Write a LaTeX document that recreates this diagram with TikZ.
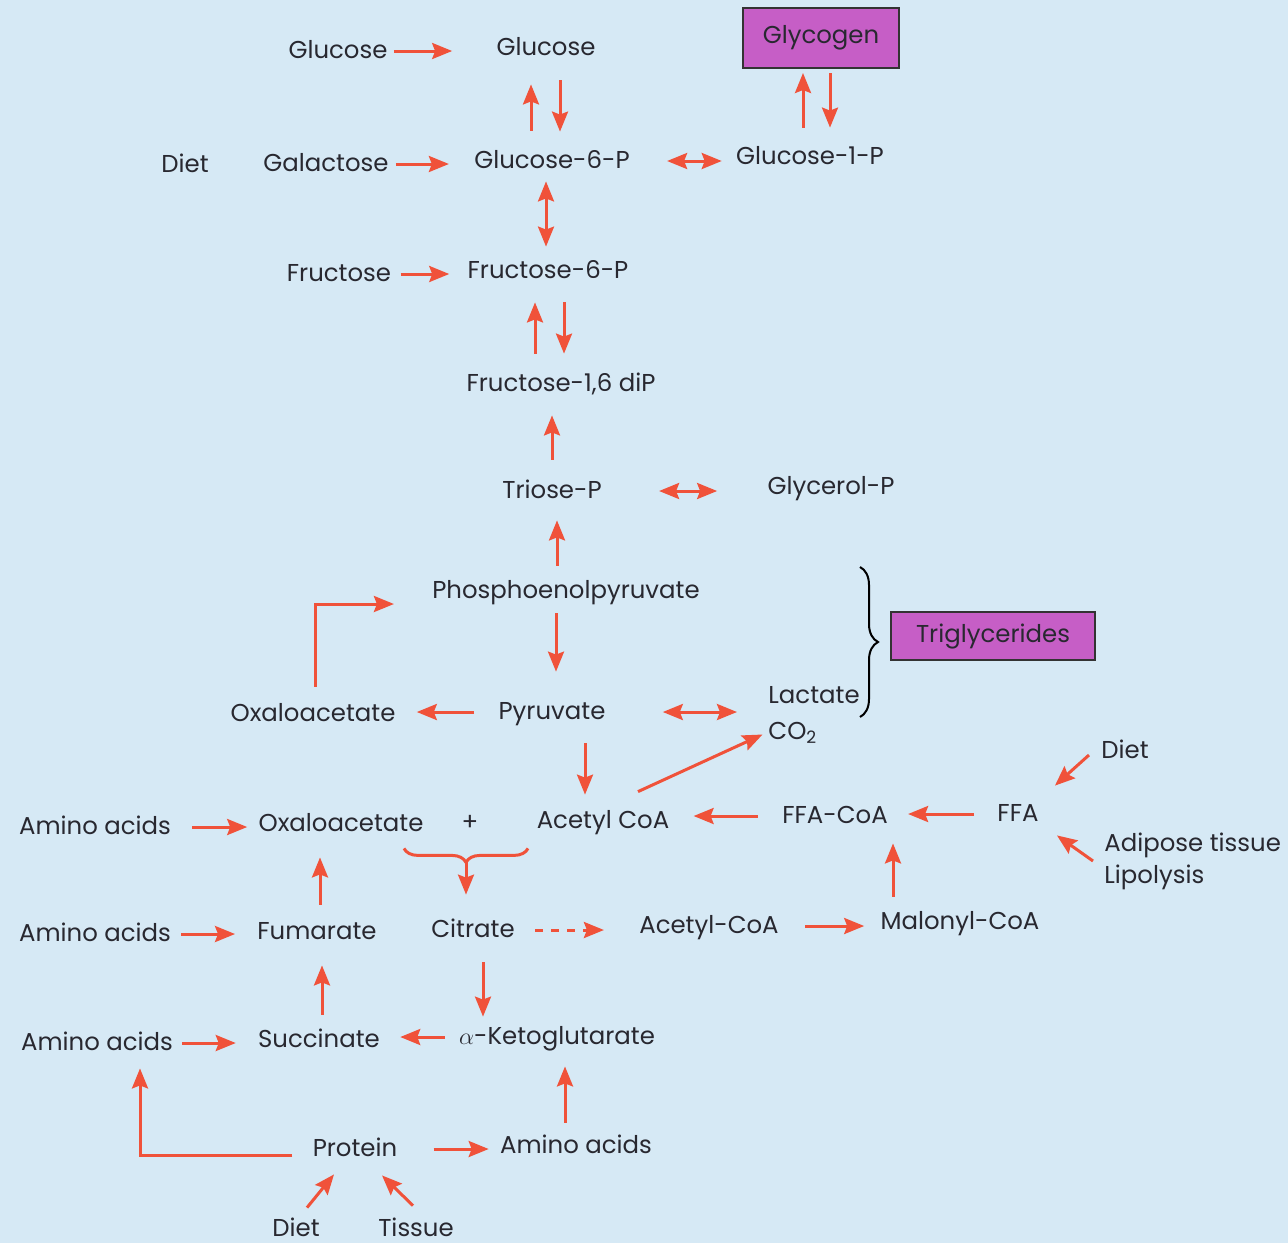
\documentclass[tikz,border=0pt]{standalone}
\usepackage{fontspec}
\setmainfont{Poppins}
\usepackage{tikz}
\usetikzlibrary{positioning,arrows.meta,calc,decorations.pathreplacing}
\definecolor{bgblue}{RGB}{214,233,245}
\definecolor{arrowred}{RGB}{240,82,58}
\definecolor{boxpink}{RGB}{198,94,198}
\definecolor{txtgray}{RGB}{40,40,48}

\begin{document}
\begin{tikzpicture}[x=0.5pt, y=-0.5pt,
    lbl/.style={anchor=base, inner sep=0pt, text height=10pt, text depth=3pt,
        text=txtgray, font=\fontsize{12.2}{14}\selectfont},
    store/.style={draw=black!80, line width=1pt, fill=boxpink, text=txtgray,
        font=\fontsize{12.2}{14}\selectfont},
    >={Stealth[length=10pt, width=8pt, inset=1.5pt]},
    arr/.style={draw=arrowred, line width=1.5pt, ->},
    dbl/.style={draw=arrowred, line width=1.5pt, <->}]
    \fill[bgblue] (0,0) rectangle (1288,1243);
    \useasboundingbox (0,0) rectangle (1288,1243);

    % Sugars
    \node[lbl] (glcA) at (338,58) {Glucose};
    \node[lbl] (glcB) at (546,55) {Glucose};
    \node[store, minimum width=78pt, minimum height=30pt] (glycogen) at (821,38) {Glycogen};
    \node[lbl] (dietA) at (185,172) {Diet};
    \node[lbl] (gal) at (326,171) {Galactose};
    \node[lbl] (g6p) at (552,168) {Glucose-6-P};
    \node[lbl] (g1p) at (810,164) {Glucose-1-P};
    \node[lbl] (fru) at (339,281) {Fructose};
    \node[lbl] (f6p) at (548,278) {Fructose-6-P};
    \node[lbl] (fdp) at (561,391) {Fructose-1,6 diP};
    \node[lbl] (triose) at (552,498) {Triose-P};
    \node[lbl] (glyp) at (831,494) {Glycerol-P};
    \node[lbl] (pep) at (566,598) {Phosphoenolpyruvate};
    \node[store, minimum width=102pt, minimum height=24pt] (trig) at (993,636) {Triglycerides};
    \node[lbl, anchor=base west] (lact) at (768,703) {Lactate};
    \node[lbl, anchor=base west] (co2) at (768,739) {CO\textsubscript{2}};
    \node[lbl] (oaaA) at (313,721) {Oxaloacetate};
    \node[lbl] (pyr) at (552,719) {Pyruvate};

    % Fatty acids
    \node[lbl] (acoa) at (603,828) {Acetyl CoA};
    \node[lbl] (dietB) at (1125,758) {Diet};
    \node[lbl] (ffacoa) at (835,823) {FFA-CoA};
    \node[lbl] (ffa) at (1018,821) {FFA};
    \node[anchor=west, inner sep=0pt, align=left, text=txtgray,
        font=\fontsize{12.2}{16}\selectfont] (adip) at (1104,861) {Adipose tissue\\Lipolysis};
    \node[lbl] (acoaB) at (709,933) {Acetyl-CoA};
    \node[lbl] (mal) at (960,929) {Malonyl-CoA};

    % Citric acid cycle
    \node[lbl] (aaA) at (95,834) {Amino acids};
    \node[lbl] (oaaB) at (341,831) {Oxaloacetate};
    \node[lbl] (plus) at (470,830) {+};
    \node[lbl] (cit) at (473,937) {Citrate};
    \node[lbl] (aaB) at (95,941) {Amino acids};
    \node[lbl] (fum) at (317,939) {Fumarate};
    \node[lbl] (aaC) at (97,1050) {Amino acids};
    \node[lbl] (succ) at (319,1047) {Succinate};
    \node[lbl] (akg) at (557,1044) {$\alpha$-Ketoglutarate};
    \node[lbl] (prot) at (355,1156) {Protein};
    \node[lbl] (aaD) at (576,1153) {Amino acids};
    \node[lbl] (dietC) at (296,1236) {Diet};
    \node[lbl] (tissue) at (416,1236) {Tissue};

    % Horizontal steps
    \draw[arr, shorten <=3pt, shorten >=22pt] (glcA.east) -- (glcA.east -| glcB.west);
    \draw[arr, shorten <=3.5pt, shorten >=12.5pt] (gal.east) -- (gal.east -| g6p.west);
    \draw[dbl, shorten <=18.5pt, shorten >=7pt] (g6p.east) -- (g6p.east -| g1p.west);
    \draw[arr, shorten <=4.5pt, shorten >=9pt] (fru.east) -- (fru.east -| f6p.west);
    \draw[dbl, shorten <=28.5pt, shorten >=25pt] (triose.east) -- (triose.east -| glyp.west);
    \draw[dbl, shorten <=28.5pt, shorten >=15.5pt] (pyr.east) -- (pyr.east -| lact.west);
    \draw[arr, shorten <=12pt, shorten >=10.5pt] (pyr.west) -- (pyr.west -| oaaA.east);
    \draw[arr, shorten <=12pt, shorten >=12pt] (ffacoa.west) -- (ffacoa.west -| acoa.east);
    \draw[arr, shorten <=11.5pt, shorten >=10pt] (ffa.west) -- (ffa.west -| ffacoa.east);
    \draw[arr, shorten <=10.5pt, shorten >=5.5pt] (aaA.east) -- (aaA.east -| oaaB.west);
    \draw[arr, shorten <=5pt, shorten >=11pt] (aaB.east) -- (aaB.east -| fum.west);
    \draw[arr, dash pattern=on 4pt off 4pt, shorten <=10pt, shorten >=17.5pt] (cit.east) -- (cit.east -| acoaB.west);
    \draw[arr, shorten <=13pt, shorten >=8pt] (acoaB.east) -- (acoaB.east -| mal.west);
    \draw[arr, shorten <=4.5pt, shorten >=11pt] (aaC.east) -- (aaC.east -| succ.west);
    \draw[arr, shorten <=7pt, shorten >=10pt] (akg.west) -- (akg.west -| succ.east);
    \draw[arr, shorten <=18pt, shorten >=5.5pt] (prot.east) -- (prot.east -| aaD.west);

    % Vertical steps
    \draw[arr, shorten <=8.5pt, shorten >=11.5pt] ([xshift=-10.5pt]g6p.north) -- ([xshift=-10.5pt]g6p.north |- glcB.south);
    \draw[arr, shorten <=9.5pt, shorten >=8pt] ([xshift=7pt]glcB.south) -- ([xshift=7pt]glcB.south |- g6p.north);
    \draw[arr, shorten <=8pt, shorten >=2pt] ([xshift=-3.5pt]g1p.north) -- ([xshift=-3.5pt]g1p.north |- glycogen.south);
    \draw[arr, shorten <=2pt, shorten >=8pt] ([xshift=4.5pt]glycogen.south) -- ([xshift=4.5pt]glycogen.south |- g1p.north);
    \draw[dbl, shorten <=3.5pt, shorten >=5.5pt] ([xshift=-3pt]g6p.south) -- ([xshift=-3pt]g6p.south |- f6p.north);
    \draw[arr, shorten <=8.5pt, shorten >=9pt] ([xshift=-13pt]fdp.north) -- ([xshift=-13pt]fdp.north |- f6p.south);
    \draw[arr, shorten <=9pt, shorten >=8.5pt] ([xshift=8pt]f6p.south) -- ([xshift=8pt]f6p.south |- fdp.north);
    \draw[arr, shorten <=9pt, shorten >=9pt] (triose.north) -- (triose.north |- fdp.south);
    \draw[arr, shorten <=6pt, shorten >=8pt] ([xshift=-4.5pt]pep.north) -- ([xshift=-4.5pt]pep.north |- triose.south);
    \draw[arr, shorten <=4.5pt, shorten >=13.5pt] ([xshift=-5pt]pep.south) -- ([xshift=-5pt]pep.south |- pyr.north);
    \draw[arr, shorten <=9pt, shorten >=6.5pt] ([xshift=16.5pt]pyr.south) -- ([xshift=16.5pt]pyr.south |- acoa.north);
    \draw[arr, shorten <=6pt, shorten >=7pt] ([xshift=-33.5pt]mal.north) -- ([xshift=-33.5pt]mal.north |- ffacoa.south);
    \draw[arr, shorten <=7pt, shorten >=10pt] ([xshift=1.5pt]fum.north) -- ([xshift=1.5pt]fum.north |- oaaB.south);
    \draw[arr, shorten <=6pt, shorten >=10pt] ([xshift=1.5pt]succ.north) -- ([xshift=1.5pt]succ.north |- fum.south);
    \draw[arr, shorten <=9.5pt, shorten >=3.5pt] ([xshift=5pt]cit.south) -- ([xshift=5pt]cit.south |- akg.north);
    \draw[arr, shorten <=5pt, shorten >=8pt] ([xshift=-5.5pt]aaD.north) -- ([xshift=-5.5pt]aaD.north |- akg.south);

    % Bent and slanted steps
    \draw[arr, shorten <=7pt, shorten >=19pt] ([xshift=1pt]oaaA.north) |- ([yshift=-6.5pt]pep.west);
    \draw[arr, shorten <=10pt, shorten >=6pt] ([yshift=-3pt]prot.west) -| ([xshift=21.5pt]aaC.south);
    \draw[arr, shorten >=3pt] ([xshift=17.5pt, yshift=8pt]acoa.north) -- (co2.west);
    \draw[arr] ([xshift=-6pt, yshift=-2pt]dietB.west) -- ([xshift=8pt, yshift=7.5pt]ffa.north east);
    \draw[arr] ([xshift=-5.5pt]adip.west) -- ([xshift=9pt, yshift=-4pt]ffa.south east);
    \draw[arr] ([xshift=5.5pt, yshift=4pt]dietC.north) -- ([xshift=-10.5pt, yshift=-6pt]prot.south);
    \draw[arr] ([xshift=-1.5pt, yshift=5pt]tissue.north) -- ([xshift=13.5pt, yshift=-6.5pt]prot.south);

    % Condensation brace
    \coordinate (bl) at ([xshift=31.5pt, yshift=-5.5pt]oaaB.south);
    \coordinate (br) at ([xshift=-37.5pt, yshift=-7pt]acoa.south);
    \coordinate (bm) at ($(bl)!0.5!(br)$);
    \draw[draw=arrowred, line width=1.5pt, decorate, decoration={brace, amplitude=7pt}] (br) -- (bl);
    \draw[arr, shorten >=11pt] ([yshift=-7pt]bm) -- (bm |- cit.north);

    % Brace to triglycerides
    \draw[line width=1pt, decorate, decoration={brace, amplitude=9pt}] (860,567) -- (860,717);
\end{tikzpicture}
\end{document}
